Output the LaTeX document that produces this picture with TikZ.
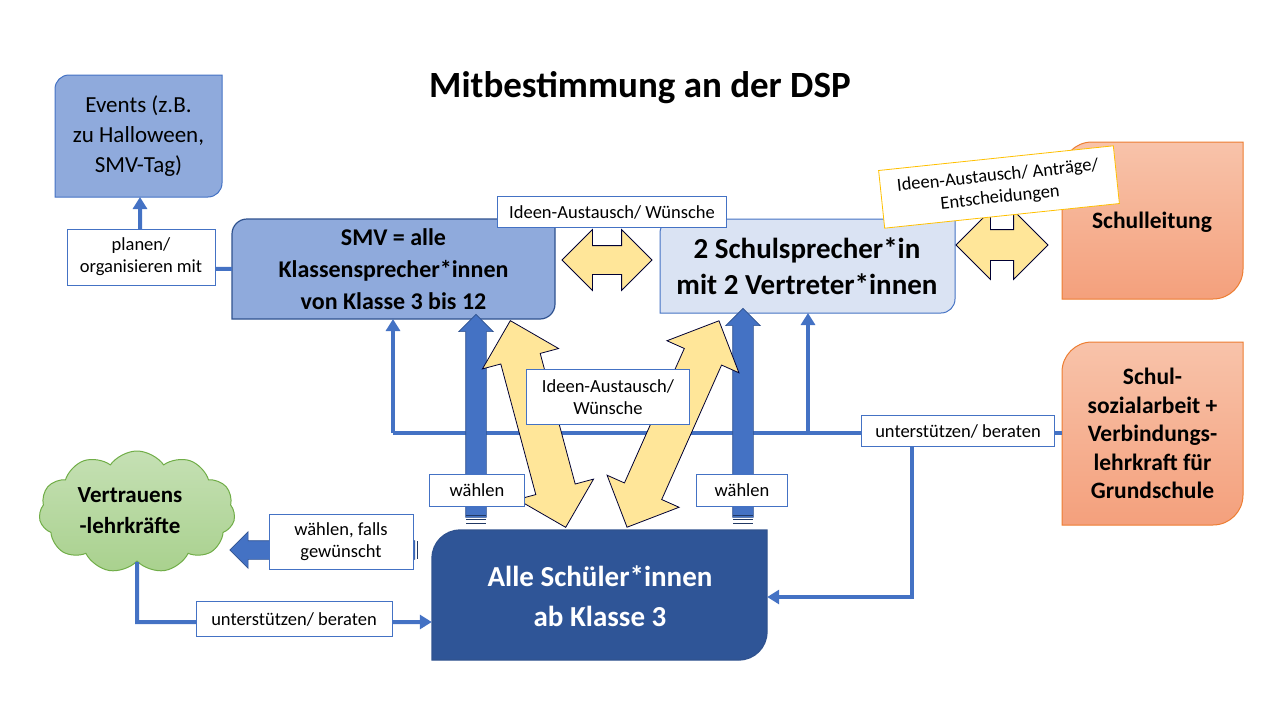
\documentclass[tikz,border=0pt]{standalone}
\usepackage{fontspec}
\setmainfont{Carlito}
\usetikzlibrary{shapes.arrows,shapes.symbols,arrows.meta}
\definecolor{mblue}{HTML}{4472C4}
\definecolor{lblue}{HTML}{8FAADC}
\definecolor{pblue}{HTML}{DAE3F3}
\definecolor{dblue}{HTML}{2F5597}
\definecolor{ddblue}{HTML}{2F528F}
\definecolor{orb}{HTML}{ED7D31}
\definecolor{ortop}{HTML}{F8C3AA}
\definecolor{orbot}{HTML}{F4A07C}
\definecolor{ylw}{HTML}{FFE699}
\definecolor{gold}{HTML}{FFC000}
\definecolor{gtop}{HTML}{C5E0B4}
\definecolor{gbot}{HTML}{A9D18E}
\definecolor{gb}{HTML}{70AD47}
\newcommand{\dbox}[7]{% name L T R B r style
  \path[#7] (#2,#5) -- (#2,#3+#6) arc[start angle=180,end angle=270,radius=#6] -- (#4,#3) -- (#4,#5-#6) arc[start angle=0,end angle=90,radius=#6] -- cycle;
  \node[minimum width={#4-#2}, minimum height={#5-#3}, inner sep=0pt] (#1) at ({(#2+#4)/2},{(#3+#5)/2}) {};}
\tikzset{
 conn/.style={draw=mblue,line width=4pt},
 arr/.style={conn,-{Triangle[length=12pt,width=14pt]}},
 lbl/.style={draw=mblue,fill=white,line width=0.8pt,font=\fontsize{18.5}{22}\selectfont,align=center,inner sep=3pt},
 btxt/.style={align=center,font=\bfseries},
 barrow/.style={single arrow,draw=ddblue,fill=mblue,line width=0.6pt,inner xsep=0pt,single arrow head indent=0pt},
 yarrow/.style={double arrow,draw=black!80!blue,fill=ylw,line width=0.8pt,inner xsep=0pt},
}
\begin{document}
\begin{tikzpicture}[x=1pt,y=-1pt]
\path[use as bounding box] (0,0) rectangle (1280,720);
% boxes
\dbox{ev}{55}{75}{222}{197}{14}{fill=lblue,draw=mblue,line width=1pt}
\dbox{smv}{232}{219}{555}{319}{15}{fill=lblue,draw=ddblue,line width=1.2pt}
\dbox{sp}{660}{219}{955}{313}{14}{fill=pblue,draw=mblue,line width=1pt}
\dbox{sl}{1062}{142}{1243}{299}{30}{top color=ortop,bottom color=orbot,draw=orb,line width=1pt}
\dbox{ss}{1062}{342}{1243}{525}{30}{top color=ortop,bottom color=orbot,draw=orb,line width=1pt}
\dbox{alle}{432}{530}{767}{660}{28}{fill=dblue,draw=ddblue,line width=1.2pt}
\node[cloud,cloud puffs=11,cloud puff arc=110,aspect=1.6,minimum width=196pt,minimum height=122pt,top color=gtop,bottom color=gbot,draw=gb,line width=1pt,inner sep=0pt] (cl) at (137,512) {};
% title and texts
\node[font=\bfseries\fontsize{37}{44}\selectfont] (title) at (640,88) {Mitbestimmung an der DSP};
\node[align=center,font=\fontsize{23}{30}\selectfont] at (ev) {Events (z.B.\\zu Halloween,\\SMV-Tag)};
\node[btxt,font=\bfseries\fontsize{24}{32}\selectfont] at (smv) {SMV = alle\\Klassensprecher*innen\\von Klasse 3 bis 12};
\node[btxt,font=\bfseries\fontsize{29}{36}\selectfont] at (807,266) {2 Schulsprecher*in\\mit 2 Vertreter*innen};
\node[btxt,font=\bfseries\fontsize{23.5}{28}\selectfont] at (1152,222) {Schulleitung};
\node[btxt,font=\bfseries\fontsize{23.5}{28.5}\selectfont] at (ss) {Schul-\\sozialarbeit +\\Verbindungs-\\lehrkraft für\\Grundschule};
\node[btxt,font=\bfseries\fontsize{29}{40}\selectfont,text=white] at (600,596) {Alle Schüler*innen\\ab Klasse 3};
\node[btxt,font=\bfseries\fontsize{23}{31}\selectfont] at (130,511) {Vertrauens\\-lehrkräfte};
% connectors
\coordinate (evb) at (140,197);
\draw[arr] (smv.west) -- (140,268) -- (evb);
\coordinate (jl) at (393,433);
\coordinate (jr) at (912,433);
\draw[conn] (jl) -- (ss.west|-jl);
\draw[arr] (jl) -- (393,319);
\draw[arr] (808,433) -- (808,313);
\draw[arr] (jr) -- (912,597) -- (alle.east|-912,597);
\draw[arr] (cl.south) -- (137,622) -- (alle.west|-137,622);
% blue block arrows
\node[barrow,rotate=90,inner ysep=10pt,minimum height=203pt,single arrow head extend=7pt] (ba1) at (476,421) {};
\node[barrow,rotate=90,inner ysep=10pt,minimum height=209pt,single arrow head extend=7pt] (ba2) at (743,418) {};
\node[barrow,rotate=180,inner ysep=9pt,minimum height=185pt,single arrow head extend=9pt] (ba3) at (327,550) {};
\foreach \yy in {515,519,523}{\draw[ddblue!70!black,line width=0.8pt] (466,\yy) -- (486,\yy); \draw[ddblue!70!black,line width=0.8pt] (733,\yy) -- (753,\yy);}
\foreach \xx in {413,417}{\draw[ddblue!70!black,line width=0.8pt] (\xx,541) -- (\xx,559);}
% yellow arrows
\node[yarrow,inner ysep=14pt,minimum height=90pt,double arrow head extend=16pt] (ya1) at (607,260) {};
\node[yarrow,inner ysep=15pt,minimum height=92pt,double arrow head extend=19pt] (ya2) at (1002,245) {};
\node[yarrow,rotate=105,inner ysep=20pt,minimum height=214pt,double arrow head extend=19pt] (ya3) at (538,424) {};
\node[yarrow,rotate=66,inner ysep=20pt,minimum height=226pt,double arrow head extend=19pt] (ya4) at (673,424) {};
% labels
\node[lbl,minimum width=148pt,minimum height=56pt] (l1) at (141,257) {planen/\\organisieren mit};
\node[lbl,minimum width=229pt,minimum height=31pt] (l2) at (612,212) {Ideen-Austausch/ Wünsche};
\node[lbl,draw=gold,rotate=6,minimum width=236pt,minimum height=58pt] (l3) at (999,187) {Ideen-Austausch/ Anträge/\\Entscheidungen};
\node[lbl,minimum width=163pt,minimum height=55pt] (l4) at (608,397) {Ideen-Austausch/\\Wünsche};
\node[lbl,minimum width=95pt,minimum height=32pt] (l5) at (477,490) {wählen};
\node[lbl,minimum width=91pt,minimum height=32pt] (l6) at (742,490) {wählen};
\node[lbl,minimum width=144pt,minimum height=55pt] (l7) at (341,542) {wählen, falls\\gewünscht};
\node[lbl,minimum width=193pt,minimum height=31pt] (l8) at (958,431) {unterstützen/ beraten};
\node[lbl,minimum width=196pt,minimum height=35pt] (l9) at (294,619) {unterstützen/ beraten};
\end{tikzpicture}
\end{document}
